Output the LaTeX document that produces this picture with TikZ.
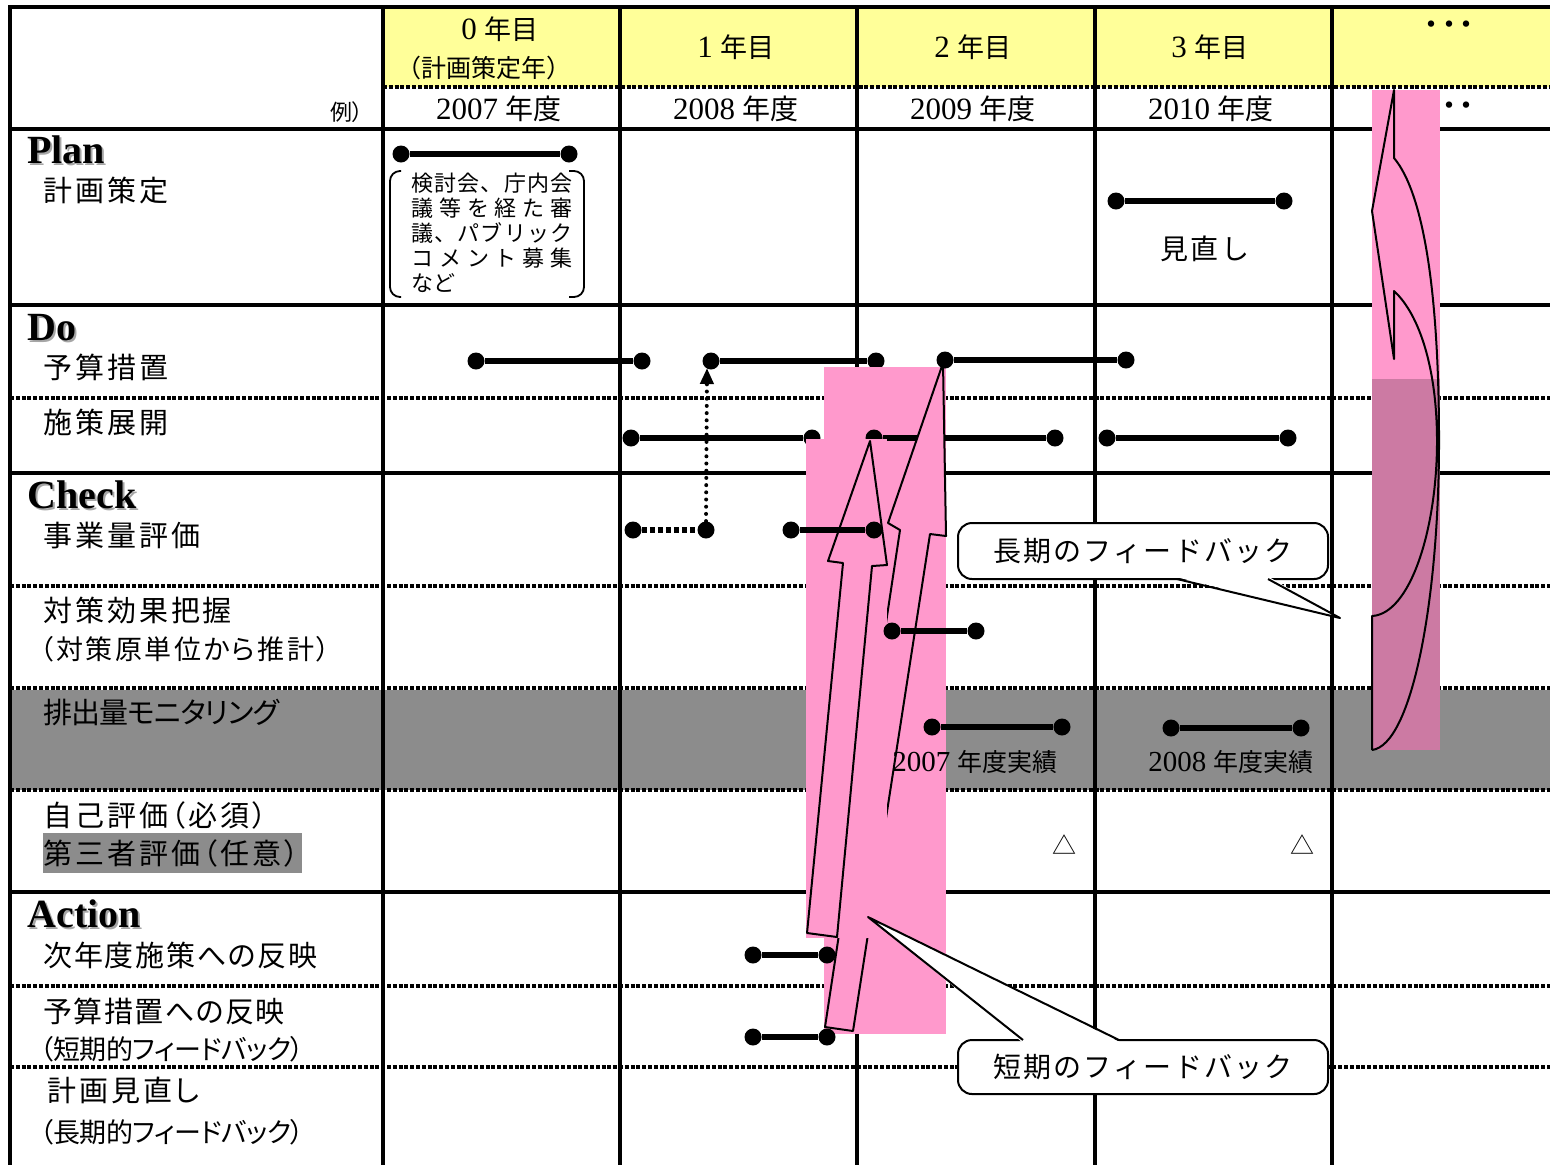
\documentclass[tikz,border=0pt]{standalone}
\usepackage{fontspec}
\setmainfont{Liberation Serif}
\newfontfamily\cjk{Noto Sans CJK JP}
\newfontfamily\cjkp{Noto Sans CJK JP}[RawFeature=+palt]
\usetikzlibrary{arrows.meta,shapes.geometric}
\definecolor{hdryellow}{HTML}{FFFF99}
\definecolor{bandgray}{HTML}{8C8C8C}
\definecolor{fbpink}{HTML}{FF99CC}
\definecolor{fbmauve}{HTML}{CC7AA3}
\newcommand{\fs}[1]{\fontsize{#1}{#1}\selectfont}
\newcommand{\ls}[1]{\addfontfeature{LetterSpace=#1}}
\newcommand{\mkbar}[5]{%
  \node[dotnode] (#1a) at (#2,#3) {};
  \node[dotnode] (#1b) at (#4,#5) {};
  \draw[barline] (#1a) -- (#1b);}
\begin{document}
\begin{tikzpicture}[x=0.5pt,y=-0.5pt,
  grid/.style={line width=2.2pt,line cap=rect},
  gridd/.style={line width=1.9pt,dash pattern=on 2pt off 0.9pt},
  hdr/.style={inner sep=0},
  lbl/.style={anchor=west,inner sep=0,font=\cjkp\fs{14.5}\ls{10}},
  sublbl/.style={anchor=west,inner sep=0,font=\cjkp\fs{13.5}},
  pdca/.style={anchor=base west,inner sep=0,font=\bfseries\fs{20}},
  pdcashadow/.style={pdca,text=black!35},
  dotnode/.style={circle,fill=black,inner sep=0,minimum size=8.5pt},
  barline/.style={line width=2.8pt},
  dottedbar/.style={line width=2.8pt,dash pattern=on 2.5pt off 1.5pt},
  blockarrow/.style={fill=fbpink,draw=black,line width=1pt,line join=round},
  callout/.style={draw=black,fill=white,line width=1pt,rounded corners=7pt,
    minimum width=185pt,inner sep=0,font=\cjk\fs{14}\ls{8}},
  boxtext/.style={anchor=west,inner sep=0,font=\cjk\fs{11}},
  hdots/.style={inner sep=0,font=\cjk\fs{15}\ls{-43}}]
\useasboundingbox (0,0) rectangle (1550,1164);
\fill[white] (0,0) rectangle (1550,1164);
% backgrounds
\fill[hdryellow] (383,7) rectangle (1550,87);
\fill[bandgray] (10,690) rectangle (1550,790);
\fill[bandgray] (43,833) rectangle (302,873);
% grid
\draw[gridd] (383,87) -- (1550,87);
\foreach \yy in {398,586,688,790,986,1067} \draw[gridd] (10,\yy) -- (1550,\yy);
\foreach \yy in {7,129,305,473,892} \draw[grid] (10,\yy) -- (1550,\yy);
\foreach \xx in {10,383,620,857,1095,1332} \draw[grid] (\xx,7) -- (\xx,1164);
% header
\node[hdr] (h0a) at (500,29) {\fs{15.5}0 {\cjk\fs{13.5}年目}};
\node[hdr] (h0b) at (484,68) {\cjk\fs{12.5}（計画策定年）};
\node[hdr] (h1) at (736,47) {\fs{15.5}1 {\cjk\fs{13.5}年目}};
\node[hdr] (h2) at (973,47) {\fs{15.5}2 {\cjk\fs{13.5}年目}};
\node[hdr] (h3) at (1210,47) {\fs{15.5}3 {\cjk\fs{13.5}年目}};
\node[hdots] (hd) at (1449,28) {・・・};
\node[hdr,anchor=east] (rei) at (364,112) {\cjkp\fs{11}例）};
\node[hdr] (y0) at (499,109) {\fs{15.5}2007 {\cjk\fs{14}年度}};
\node[hdr] (y1) at (736,109) {\fs{15.5}2008 {\cjk\fs{14}年度}};
\node[hdr] (y2) at (973,109) {\fs{15.5}2009 {\cjk\fs{14}年度}};
\node[hdr] (y3) at (1211,109) {\fs{15.5}2010 {\cjk\fs{14}年度}};
\node[hdots] (yd) at (1449,109) {・・・};
% left labels
\node[pdcashadow] (plans) at (29,165) {Plan};
\node[pdca] (plan) at (27,163) {Plan};
\node[lbl] (l1) at (43,190) {計画策定};
\node[pdcashadow] (dos) at (29,342) {Do};
\node[pdca] (do) at (27,340) {Do};
\node[lbl] (l2) at (43,367) {予算措置};
\node[lbl] (l3) at (43,422) {施策展開};
\node[pdcashadow] (checks) at (29,510) {Check};
\node[pdca] (check) at (27,508) {Check};
\node[lbl] (l4) at (43,535) {事業量評価};
\node[lbl] (l5) at (43,610) {対策効果把握};
\node[sublbl] (l6) at (40,649) {\ls{9}（対策原単位から推計）};
\node[lbl] (l7) at (43,712) {\ls{-3}排出量モニタリング};
\node[lbl] (l8) at (43,815) {自己評価（必須）};
\node[lbl] (l9) at (43,853) {第三者評価（任意）};
\node[pdcashadow] (actions) at (29,929) {Action};
\node[pdca] (action) at (27,927) {Action};
\node[lbl] (l10) at (43,955) {\ls{6}次年度施策への反映};
\node[lbl] (l11) at (43,1011) {\ls{5}予算措置への反映};
\node[sublbl] (l12) at (40,1049) {\ls{-2}（短期的フィードバック）};
\node[lbl] (l13) at (47,1090) {計画見直し};
\node[sublbl] (l14) at (40,1132) {\ls{-2}（長期的フィードバック）};
% plan row
\mkbar{pa}{401}{154}{569}{154}
\draw[line width=0.9pt,rounded corners=5pt] (401,171) -- (390,171) -- (390,297) -- (401,297);
\draw[line width=0.9pt,rounded corners=5pt] (569,171) -- (584,171) -- (584,297) -- (569,297);
\node[boxtext] (bx1) at (411,183) {\makebox[80.5pt][s]{検\hfill 討\hfill 会\hfill 、\hfill 庁\hfill 内\hfill 会}};
\node[boxtext] (bx2) at (411,208) {\makebox[80.5pt][s]{議\hfill 等\hfill を\hfill 経\hfill た\hfill 審}};
\node[boxtext] (bx3) at (411,233) {\makebox[80.5pt][s]{議\hfill 、\hfill パ\hfill ブ\hfill リ\hfill ッ\hfill ク}};
\node[boxtext] (bx4) at (411,258) {\makebox[80.5pt][s]{コ\hfill メ\hfill ン\hfill ト\hfill 募\hfill 集}};
\node[boxtext] (bx5) at (411,283) {など};
\mkbar{pb}{1116}{201}{1284}{201}
\node[hdr] (mn) at (1205,249) {\cjk\fs{14}\ls{10}見直し};
% do row (under the pink)
\mkbar{ya}{476}{361}{642}{361}
\mkbar{yb}{711}{361}{876}{361}
\mkbar{sa}{631}{438}{812}{438}
% pink rect A
\fill[fbpink] (824,367) rectangle (946,1034);
\mkbar{yc}{945}{360}{1126}{360}
\mkbar{sb}{874}{438}{1055}{438}
\mkbar{sc}{1107}{438}{1288}{438}
% arrow 2
\filldraw[blockarrow] (943,363) -- (946,536) -- (930,534) -- (853,1031) -- (825,1027) -- (900,530) -- (888,523) -- cycle;
% pink rect B
\fill[fbpink] (806,439) rectangle (887,938);
% arrow 1
\filldraw[blockarrow] (870,441) -- (887,565) -- (872,566) -- (837,937) -- (807,933) -- (843,563) -- (828,561) -- cycle;
% check row
\node[dotnode] (qa) at (633,530) {};
\node[dotnode] (qb) at (706,530) {};
\draw[dottedbar] (qa) -- (qb);
\coordinate (qtip) at (707,368);
\draw[line width=2pt,dash pattern=on 0pt off 3.6pt,line cap=round,-{Triangle[width=6.5pt,length=8pt]}] (qb.north) -- (qtip);
\mkbar{ca}{791}{530}{874}{530}
\mkbar{ta}{892}{631}{976}{631}
\mkbar{ea}{932}{727}{1062}{727}
\mkbar{eb}{1171}{728}{1301}{728}
\node[hdr] (r07) at (975,762) {\fs{14.5}2007 {\cjk\fs{12.5}年度実績}};
\node[hdr] (r08) at (1231,762) {\fs{14.5}2008 {\cjk\fs{12.5}年度実績}};
\node[hdr] (tr1) at (1064,845) {\cjk\fs{12}△};
\node[hdr] (tr2) at (1302,845) {\cjk\fs{12}△};
% action row
\mkbar{aa}{753}{955}{827}{955}
\mkbar{ab}{753}{1037}{827}{1037}
% long-term feedback arrow
\fill[fbpink] (1372,90) rectangle (1440,380);
\fill[fbmauve] (1372,379) rectangle (1440,750);
\draw[line width=1pt,line join=round] (1372,750) -- (1372,616)
  .. controls (1410,614) and (1437,530) .. (1437,441)
  .. controls (1437,370) and (1420,315) .. (1394,291)
  -- (1394,359) -- (1372,211) -- (1394,90) -- (1394,158)
  .. controls (1425,195) and (1439,300) .. (1439,441)
  .. controls (1439,600) and (1412,745) .. (1372,750);
% callouts
\node[callout,minimum height=28pt] (cl) at (1143,551) {長期のフィードバック};
\fill[white] (1176,577) -- (1269,577) -- (1340,618) -- cycle;
\draw[line width=1pt,line join=round] (1177,579) -- (1340,618) -- (1268,579);
\node[callout,minimum height=27pt] (cs) at (1143,1067) {短期のフィードバック};
\fill[white] (1022,1042) -- (1120,1042) -- (868,917) -- cycle;
\draw[line width=1pt,line join=round] (1023,1040) -- (868,917) -- (1119,1040);
\end{tikzpicture}
\end{document}
